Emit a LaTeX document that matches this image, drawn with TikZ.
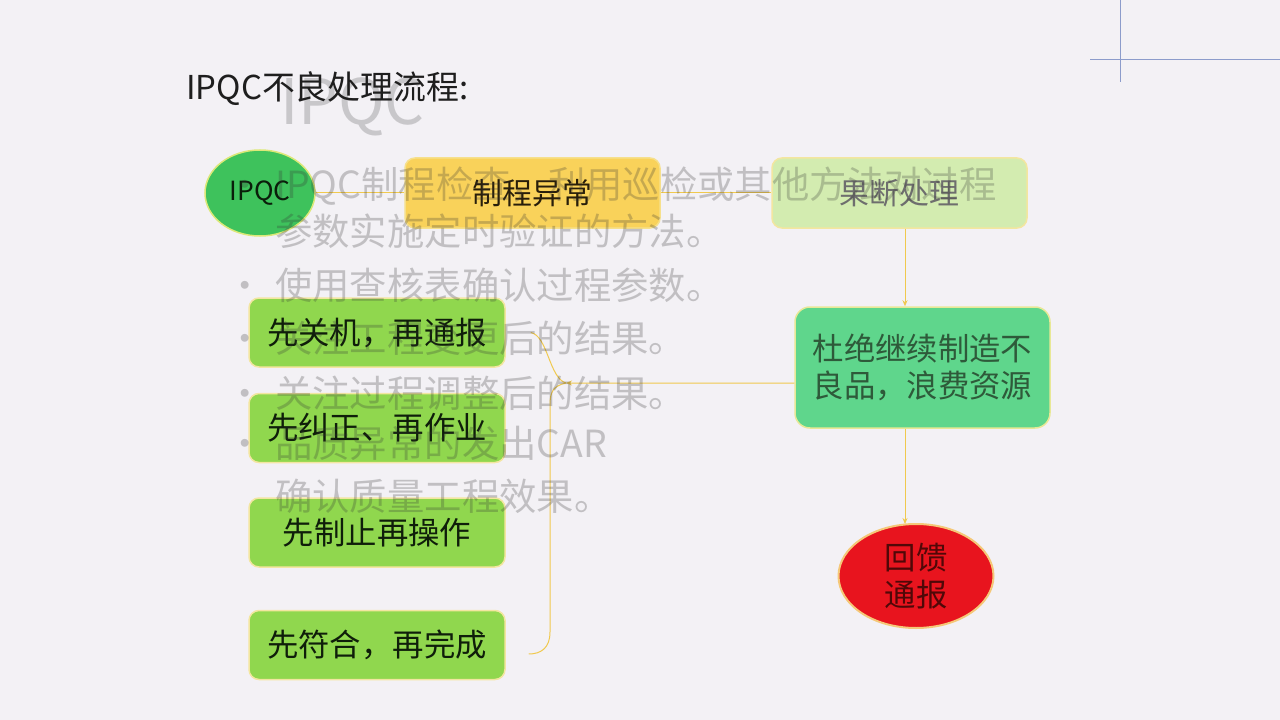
\documentclass[tikz,border=0pt]{standalone}
\usepackage{fontspec}
\setmainfont{Noto Sans CJK SC}
\usetikzlibrary{shapes.geometric,arrows.meta}
\definecolor{bgc}{HTML}{F3F1F5}
\definecolor{ipqcg}{HTML}{3EC25C}
\definecolor{ylw}{HTML}{F9D25A}
\definecolor{lgrn}{HTML}{D3ECB0}
\definecolor{mgrn}{HTML}{5FD68C}
\definecolor{lime}{HTML}{90D74E}
\definecolor{redc}{HTML}{E8141E}
\definecolor{rim}{HTML}{F3E6A0}
\definecolor{conc}{HTML}{F0C94E}
\definecolor{crossc}{HTML}{8C9CCB}
\definecolor{ghostc}{HTML}{333333}
\begin{document}
\begin{tikzpicture}[x=1bp,y=-1bp,
  boxbase/.style={rectangle,rounded corners=10bp,draw=rim,line width=1.5bp,inner sep=0pt,align=center},
  lbox/.style={boxbase,fill=lime,minimum width=256bp,minimum height=69bp,font=\fontsize{31.5}{36}\selectfont,text={rgb,255:red,15;green,30;blue,10}},
  conn/.style={draw=conc,line width=1bp},
  arr/.style={conn,-{Stealth[length=6bp,width=5bp]}},
  ghost/.style={inner sep=0pt,text=ghostc,text opacity=0.26,font=\fontsize{37.5}{44}\selectfont},
]
\useasboundingbox (0,0) rectangle (1280,720);
\fill[bgc] (0,0) rectangle (1280,720);
% crosshair
\draw[crossc,line width=1bp] (1120,0) -- (1120,82);
\draw[crossc,line width=1bp] (1090,60) -- (1280,60);
% top row
\node[ellipse,fill=ipqcg,draw={rgb,255:red,220;green,232;blue,120},line width=1.5bp,minimum width=110bp,minimum height=86bp,inner sep=0pt,font=\fontsize{26.5}{30}\selectfont,text={rgb,255:red,10;green,30;blue,10}] (ip) at (260,193) {IPQC};
\node[boxbase,fill=ylw,draw={rgb,255:red,246;green,224;blue,140},minimum width=255bp,minimum height=70bp,font=\fontsize{30}{36}\selectfont,text={rgb,255:red,40;green,30;blue,10}] (zc) at (532.5,193) {制程异常};
\node[boxbase,fill=lgrn,minimum width=255bp,minimum height=70bp,font=\fontsize{30}{36}\selectfont,text={rgb,255:red,110;green,110;blue,110}] (cl) at (899.5,193) {果断处理};
\node[boxbase,rounded corners=15bp,fill=mgrn,draw={rgb,255:red,232;green,232;blue,150},minimum width=255bp,minimum height=121bp,font=\fontsize{31.5}{37}\selectfont,text={rgb,255:red,46;green,90;blue,58}] (dj) at (922.5,367.5) {杜绝继续制造不\\良品，浪费资源};
\node[ellipse,fill=redc,draw={rgb,255:red,245;green,200;blue,120},line width=2bp,minimum width=155bp,minimum height=104bp,inner sep=0pt,align=center,font=\fontsize{31.5}{37}\selectfont,text={rgb,255:red,80;green,8;blue,8}] (rd) at (916,576) {回馈\\通报};
% left boxes
\node[lbox] (b1) at (377,332.5) {先关机，再通报};
\node[lbox] (b2) at (377,428) {先纠正、再作业};
\node[lbox] (b3) at (377,532.5) {先制止再操作};
\node[lbox] (b4) at (377,645) {先符合，再完成};
% connectors
\draw[conn] (ip.east) -- (zc.west);
\draw[conn] (zc.east) -- (cl.west);
\draw[arr] ([xshift=5.5bp]cl.south) -- ([xshift=5.5bp]cl.south |- dj.north);
\draw[arr] ([xshift=-17.5bp]dj.south) -- ([xshift=-17.5bp,yshift=-1bp]dj.south |- rd.north);
\coordinate (J) at (566,383);
\coordinate (u) at ([xshift=25bp]b1.east);
\coordinate (l) at ([xshift=23bp,yshift=-9bp]b4.east);
\draw[arr] ([yshift=-15.5bp]dj.west) -- (J);
\draw[conn] (u) .. controls (548,336) and (549,378) .. (J);
\draw[conn] (J) .. controls (553,386) and (550,392) .. (550,405) -- (550,632) .. controls (550,648) and (541,654) .. (l);
% ghost text layer
\node[inner sep=0pt,anchor=base west,text=ghostc,text opacity=0.22,font=\fontsize{63}{72}\selectfont] (g0) at (280,125) {IPQC};
\node[ghost,anchor=base west] (g1) at (275,199) {IPQC制程检查，利用巡检或其他方法对过程};
\node[ghost,anchor=base west] (g2) at (275,246) {参数实施定时验证的方法。};
\node[ghost,anchor=base west] (g3) at (275,299) {使用查核表确认过程参数。};
\node[ghost,anchor=base west] (g4) at (275,352) {关注工程变更后的结果。};
\node[ghost,anchor=base west] (g5) at (275,407) {关注过程调整后的结果。};
\node[ghost,anchor=base west] (g6) at (275,457) {品质异常的发出CAR};
\node[ghost,anchor=base west] (g7) at (275,510) {确认质量工程效果。};
\foreach \yy/\nm in {199/d1,299/d3,352/d4,407/d5,457/d6}{
  \node[ghost,anchor=base] (\nm) at (245,\yy) {•};
}
% title
\node[inner sep=0pt,anchor=base west,font=\fontsize{33}{38}\selectfont,text={rgb,255:red,30;green,30;blue,30}] (title) at (186,100) {IPQC不良处理流程:};
\end{tikzpicture}
\end{document}
